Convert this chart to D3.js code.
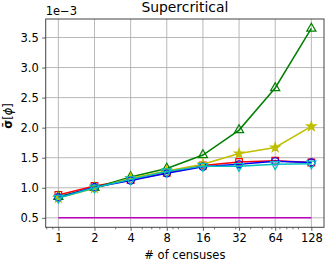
<!DOCTYPE html>
<html>
<head>
<meta charset="utf-8">
<script src="https://cdn.jsdelivr.net/npm/d3@7"></script>
<style>
  body { margin: 0; background: #fff; }
  text { font-family: "DejaVu Sans", sans-serif; fill: #000; }
</style>
</head>
<body>
<script>
// data (units of 1e-3)
const censuses = [1, 2, 4, 8, 16, 32, 64, 128];
const redSquares = [0.88, 1.03, 1.13, 1.25, 1.37, 1.43, 1.45, 1.42];
const greenTriangles = [0.85, 1.00, 1.18, 1.32, 1.545, 1.96, 2.66, 3.65];
const yellowStars = [0.83, 0.99, 1.16, 1.28, 1.39, 1.57, 1.67, 2.02];
const blueCircles = [0.84, 1.01, 1.12, 1.24, 1.35, 1.39, 1.44, 1.42];
const cyanTriangles = [0.83, 1.00, 1.14, 1.27, 1.36, 1.36, 1.39, 1.40];
const magentaLine = [0.5, 0.5, 0.5, 0.5, 0.5, 0.5, 0.5, 0.5];
const yTicks = [0.5, 1.0, 1.5, 2.0, 2.5, 3.0, 3.5];

const series = [
  {values: redSquares, color: '#ff0000', marker: 'square'},
  {values: greenTriangles, color: '#008000', marker: 'up'},
  {values: yellowStars, color: '#bfbf00', marker: 'star'},
  {values: blueCircles, color: '#0000ff', marker: 'circle'},
  {values: cyanTriangles, color: '#00bfbf', marker: 'down'},
  {values: magentaLine, color: '#bf00bf', marker: null},
];

const W = 325, H = 265;
const padL = 45.7, padR = 324, padT = 19, padB = 227.3;

const drawing = d3.select(document.body).append('svg')
  .attr('width', W).attr('height', H);

const x = d3.scaleLog().base(2)
  .domain([Math.pow(2, -0.35), Math.pow(2, 7.35)])
  .range([padL, padR]);
const y = d3.scaleLinear()
  .domain([0.3425, 3.8075])
  .range([padB, padT]);

// grid
const grid = drawing.append('g');
censuses.forEach(c => {
  grid.append('line').attr('x1', x(c)).attr('x2', x(c))
    .attr('y1', padT).attr('y2', padB)
    .attr('stroke', '#b0b0b0').attr('stroke-width', 0.9);
});
yTicks.forEach(t => {
  grid.append('line').attr('x1', padL).attr('x2', padR)
    .attr('y1', y(t)).attr('y2', y(t))
    .attr('stroke', '#b0b0b0').attr('stroke-width', 0.9);
});

// lines + markers
const line = d3.line().x((d, i) => x(censuses[i])).y(d => y(d));
const plot = drawing.append('g');
series.forEach(s => {
  plot.append('path').datum(s.values)
    .attr('d', line)
    .attr('fill', 'none')
    .attr('stroke', s.color)
    .attr('stroke-width', 1.5);
  if (!s.marker) return;
  let sym, size, rot = 0;
  if (s.marker === 'square') { sym = d3.symbolSquare; size = 44; }
  else if (s.marker === 'circle') { sym = d3.symbolCircle; size = 40; }
  else if (s.marker === 'star') { sym = d3.symbolStar; size = 26; }
  else { sym = d3.symbolTriangle; size = 36; rot = s.marker === 'down' ? 180 : 0; }
  plot.selectAll(null).data(s.values).enter().append('path')
    .attr('d', d3.symbol().type(sym).size(size))
    .attr('transform', (d, i) => `translate(${x(censuses[i])},${y(d)}) rotate(${rot})`)
    .attr('fill', s.marker === 'star' ? s.color : 'none')
    .attr('stroke', s.color)
    .attr('stroke-width', 1.2);
});

// axes
const xAxis = d3.axisBottom(x).tickValues(censuses)
  .tickFormat(d3.format('d')).tickSize(3.5).tickPadding(3.5);
const gx = drawing.append('g').attr('transform', `translate(0,${padB})`).call(xAxis);
// minor ticks like a base-10 log locator
const minors = [];
for (let k = -1; k <= 2; k++) {
  for (let m = 1; m <= 9; m++) {
    const v = m * Math.pow(10, k);
    if (v > x.domain()[0] && v < x.domain()[1] && !censuses.includes(v)) minors.push(v);
  }
}
minors.forEach(v => {
  gx.append('line').attr('x1', x(v)).attr('x2', x(v))
    .attr('y1', 0).attr('y2', 2).attr('stroke', '#333').attr('stroke-width', 0.7);
});
const yAxis = d3.axisLeft(y).tickValues(yTicks)
  .tickFormat(d3.format('.1f')).tickSize(3.5).tickPadding(3.5);
const gy = drawing.append('g').attr('transform', `translate(${padL},0)`).call(yAxis);

[gx, gy].forEach(g => {
  g.select('.domain').remove();
  g.selectAll('.tick line').attr('stroke', '#333').attr('stroke-width', 0.8);
  g.selectAll('.tick text').style('font-size', '11.5px')
    .style('font-family', '"DejaVu Sans", sans-serif').attr('fill', '#000');
});

// frame
drawing.append('rect').attr('x', padL).attr('y', padT)
  .attr('width', padR - padL).attr('height', padB - padT)
  .attr('fill', 'none').attr('stroke', '#444').attr('stroke-width', 1);

// texts
drawing.append('text').attr('x', (padL + padR) / 2).attr('y', 12)
  .attr('text-anchor', 'middle').style('font-size', '13.9px').text('Supercritical');
drawing.append('text').attr('x', padL).attr('y', 15)
  .style('font-size', '11.5px').text('1e\u22123');
drawing.append('text').attr('x', (padL + padR) / 2).attr('y', 259)
  .attr('text-anchor', 'middle').style('font-size', '11.5px').text('# of censuses');
const yl = drawing.append('text')
  .attr('transform', 'translate(12,116) rotate(-90)')
  .attr('text-anchor', 'middle').style('font-size', '11.5px');
yl.append('tspan').style('font-weight', 'bold').text('\u03c3\u0304');
yl.append('tspan').text('[');
yl.append('tspan').style('font-style', 'italic').text('\u03d5');
yl.append('tspan').text(']');
</script>
</body>
</html>
